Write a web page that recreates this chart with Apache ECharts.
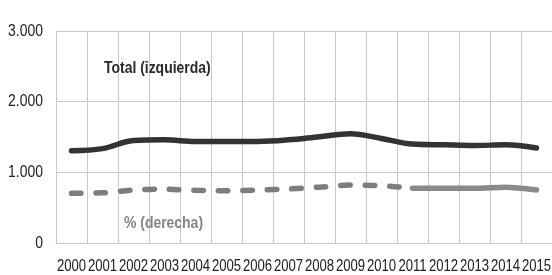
<!DOCTYPE html>
<html>
<head>
<meta charset="utf-8">
<script src="https://cdn.jsdelivr.net/npm/echarts@6/dist/echarts.min.js"></script>
<style>html,body{margin:0;padding:0;background:#fff}#c{width:552px;height:275px}</style>
</head>
<body>
<div id="c"></div>
<script>
const years = ['2000','2001','2002','2003','2004','2005','2006','2007','2008','2009','2010','2011','2012','2013','2014','2015'];
const total = [1305, 1335, 1450, 1460, 1437, 1437, 1437, 1460, 1505, 1546, 1480, 1400, 1390, 1380, 1390, 1345];
const pctDashed = [7.05, 7.1, 7.5, 7.6, 7.45, 7.4, 7.5, 7.65, 7.9, 8.2, 8.1, 7.75, null, null, null, null];
const pctSolid = [null, null, null, null, null, null, null, null, null, null, null, 7.75, 7.75, 7.75, 7.9, 7.5];
const leftTickValues = [0, 1000, 2000, 3000];
const leftTicks = ['0', '1.000', '2.000', '3.000'];

const FONT = "'Liberation Sans', Arial, sans-serif";
const NARROW = 0.82;
const chart = echarts.init(document.getElementById('c'), null, {renderer: 'canvas'});
chart.setOption({
  animation: false,
  grid: {left: 56, right: 0, top: 31, bottom: 32, containLabel: false},
  xAxis: {
    type: 'category', data: years, boundaryGap: true,
    axisLine: {show: true, lineStyle: {color: '#c8c8c8', width: 1}},
    axisTick: {show: false},
    axisLabel: {show: false},
    splitLine: {show: true, interval: 0, lineStyle: {color: '#c8c8c8', width: 1}}
  },
  yAxis: [{
    type: 'value', min: 0, max: 3000, interval: 1000,
    axisLine: {show: false}, axisTick: {show: false},
    axisLabel: {show: false},
    splitLine: {lineStyle: {color: '#c8c8c8', width: 1}}
  }, {
    type: 'value', min: 0, max: 30, interval: 10, show: false,
    splitLine: {show: false}
  }],
  series: [{
    name: 'Total (izquierda)', type: 'line', data: total, yAxisIndex: 0,
    smooth: 0.35, symbol: 'none',
    lineStyle: {color: '#333333', width: 5.5, cap: 'round', join: 'round'}
  }, {
    name: '% (derecha)', type: 'line', data: pctDashed, yAxisIndex: 1,
    smooth: 0.3, symbol: 'none',
    lineStyle: {color: '#7d7d7d', width: 5.5, type: [9.5, 15], cap: 'round'}
  }, {
    name: '% (derecha) ', type: 'line', data: pctSolid, yAxisIndex: 1,
    smooth: 0.3, symbol: 'none',
    lineStyle: {color: '#8a8a8a', width: 5.5, cap: 'round'}
  }]
});

// Condensed (narrow) labels placed through the axes' own scales
const graphics = [];
const x0 = chart.convertToPixel({xAxisIndex: 0}, years[0]);
const yBase = chart.convertToPixel({yAxisIndex: 0}, 0);
years.forEach(function (yr) {
  const px = chart.convertToPixel({xAxisIndex: 0}, yr);
  graphics.push({
    type: 'text', x: px, y: yBase + 24, scaleX: NARROW,
    style: {text: yr, fill: '#222', font: '16px ' + FONT, textAlign: 'center', textVerticalAlign: 'middle'}
  });
});
leftTickValues.forEach(function (v, i) {
  const py = chart.convertToPixel({yAxisIndex: 0}, v);
  graphics.push({
    type: 'text', x: 43, y: py, scaleX: NARROW,
    style: {text: leftTicks[i], fill: '#222', font: '17px ' + FONT, textAlign: 'right', textVerticalAlign: 'middle'}
  });
});
graphics.push({
  type: 'text', x: 104, y: 68, scaleX: NARROW,
  style: {text: 'Total (izquierda)', fill: '#2a2a2a', font: 'bold 17px ' + FONT, textAlign: 'left', textVerticalAlign: 'middle'}
});
graphics.push({
  type: 'text', x: 124, y: 223, scaleX: NARROW,
  style: {text: '% (derecha)', fill: '#858585', font: 'bold 17px ' + FONT, textAlign: 'left', textVerticalAlign: 'middle'}
});
chart.setOption({graphic: graphics});
</script>
</body>
</html>
